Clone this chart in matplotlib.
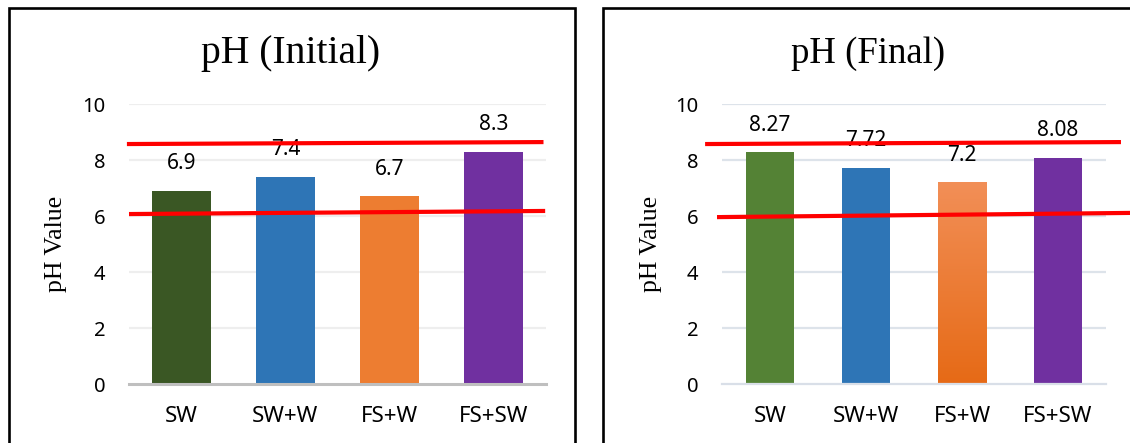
import numpy as np
import matplotlib
matplotlib.use("Agg")
import matplotlib.pyplot as plt
from matplotlib.colors import LinearSegmentedColormap
from matplotlib.patches import Rectangle

categories = ["SW", "SW+W", "FS+W", "FS+SW"]
ph_initial = [6.9, 7.4, 6.7, 8.3]
ph_final = [8.27, 7.72, 7.2, 8.08]
y_ticks = [0, 2, 4, 6, 8, 10]

# hand drawn limit lines: (start, end) pH value of each red line
limits_initial = [(8.57, 8.64), (6.07, 6.18)]
limits_final = [(8.57, 8.64), (5.96, 6.11)]
# horizontal reach of each red line, in axes fraction
reach_initial = [(-0.005, 0.994), (0.0, 0.998)]
reach_final = [(-0.044, 1.039), (-0.013, 1.063)]

colors_initial = ["#3a5724", "#2e75b6", "#ed7d31", "#7030a0"]
colors_final = ["#548235", "#2e75b6", "#ed7d31", "#7030a0"]

W, H = 1130, 443
SERIF = "Liberation Serif"
SANS = "Noto Sans"

fig = plt.figure(figsize=(W / 100, H / 100), dpi=100)


def px(x, y):
    return x / W, 1 - y / H


def draw_panel(rect, values, colors, bar_w, grid_c, base_c, base_lw, limits, reach):
    ax = fig.add_axes(rect)
    x = np.arange(len(categories))
    bars = ax.bar(x, values, width=bar_w, color=colors, zorder=3)
    for b, v in zip(bars, values):
        ax.annotate(str(v), (b.get_x() + b.get_width() / 2, v),
                    xytext=(0, 12), textcoords="offset points",
                    ha="center", va="bottom", fontsize=15, family=SANS,
                    color="#000000", zorder=5)
    ax.set_xlim(-0.5, len(categories) - 0.5)
    ax.set_ylim(0, 10)
    ax.set_yticks(y_ticks)
    ax.set_xticks(x)
    ax.set_xticklabels(categories, fontsize=16, family=SANS)
    ax.set_yticklabels([str(t) for t in y_ticks], fontsize=14.5, family=SANS)
    ax.tick_params(axis="both", length=0)
    ax.tick_params(axis="y", pad=17)
    ax.tick_params(axis="x", pad=16)
    for s in ["top", "right", "left"]:
        ax.spines[s].set_visible(False)
    ax.spines["bottom"].set_color(base_c)
    ax.spines["bottom"].set_linewidth(base_lw)
    ax.spines["bottom"].set_zorder(4)
    for t in y_ticks[1:]:
        ax.axhline(t, color=grid_c, lw=1.6, zorder=1)
    for (y0, y1), (x0, x1) in zip(limits, reach):
        ax.plot([x0, x1], [y0, y1], color="#ff0000", lw=3.0,
                transform=ax.get_yaxis_transform(), clip_on=False,
                solid_capstyle="butt", zorder=6)
    return ax, bars


l, b = px(129, 384)
ax1, bars1 = draw_panel([l, b, 417 / W, 280 / H], ph_initial, colors_initial,
                        0.566, "#eeeeee", "#bfbfbf", 2.2,
                        limits_initial, reach_initial)

l, b = px(722, 384)
ax2, bars2 = draw_panel([l, b, 384 / W, 280 / H], ph_final, colors_final,
                        0.51, "#dde3ea", "#d9dfe8", 1.6,
                        limits_final, reach_final)

# gradient fill on the FS+W bar of the final chart
bar = bars2[2]
gx, gy = bar.get_xy()
grad = np.linspace(0, 1, 256).reshape(-1, 1)
cmap = LinearSegmentedColormap.from_list("fsw", ["#e66a16", "#f28f57"])
im = ax2.imshow(grad, extent=[gx, gx + bar.get_width(), gy, gy + bar.get_height()],
                origin="lower", aspect="auto", cmap=cmap, zorder=3)
im.set_clip_path(bar)
ax2.set_xlim(-0.5, len(categories) - 0.5)
ax2.set_ylim(0, 10)

# titles and axis labels
fig.text(*px(290.5, 63), "pH (Initial)", ha="center", va="baseline",
         fontsize=28.5, family=SERIF)
fig.text(*px(868, 63), "pH (Final)", ha="center", va="baseline",
         fontsize=26.5, family=SERIF)
fig.text(*px(56, 244), "pH Value", rotation=90, ha="center", va="center",
         fontsize=18.5, family=SERIF)
fig.text(*px(651, 244), "pH Value", rotation=90, ha="center", va="center",
         fontsize=18.5, family=SERIF)

# panel frames
for x0, x1 in [(8.5, 574.5), (603, 1140)]:
    fx0, fy0 = px(x0, 460)
    fx1, fy1 = px(x1, 8)
    fig.patches.append(Rectangle((fx0, fy0), fx1 - fx0, fy1 - fy0,
                                 transform=fig.transFigure, fill=False,
                                 edgecolor="black", lw=1.9, clip_on=False))

fig.savefig("out.png", dpi=100)
